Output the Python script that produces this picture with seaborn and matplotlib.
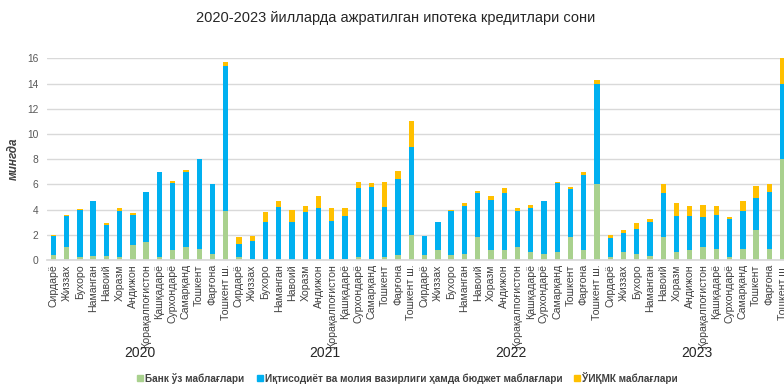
import matplotlib
matplotlib.use("Agg")
import matplotlib.pyplot as plt
import matplotlib.transforms as mtransforms
from matplotlib.lines import Line2D
import seaborn as sns
import pandas as pd

years = ["2020", "2021", "2022", "2023"]
regions = ["Сирдарё", "Жиззах", "Бухоро", "Наманган", "Навоий", "Хоразм", "Андижон",
           "Қорақалпоғистон", "Қашқадарё", "Сурхондарё", "Самарқанд", "Тошкент",
           "Фарғона", "Тошкент ш."]

bank_own = [0.4, 1.0, 0.2, 0.3, 0.3, 0.2, 1.2, 1.4, 0.25, 0.8, 1.0, 0.9, 0.5, 3.9,
            0.25, 0.1, 0.02, 0.02, 0.0, 0.0, 0.1, 0.05, 0.05, 0.2, 0.1, 0.2, 0.4, 2.0,
            0.4, 0.8, 0.4, 0.5, 1.8, 0.8, 0.8, 1.0, 0.65, 0.5, 0.6, 1.8, 0.8, 6.0,
            0.25, 0.65, 0.5, 0.35, 1.8, 0.65, 0.8, 1.0, 0.9, 0.25, 0.9, 2.4, 0.9, 8.0]
ministry_budget = [1.5, 2.5, 3.8, 4.4, 2.5, 3.7, 2.4, 4.0, 6.75, 5.35, 6.0, 7.1, 5.55, 11.5,
                   1.05, 1.4, 3.0, 4.15, 3.0, 3.8, 4.0, 3.05, 3.45, 5.5, 5.7, 4.0, 6.0, 6.95,
                   1.5, 2.2, 3.5, 3.8, 3.5, 4.0, 4.5, 2.9, 3.5, 4.15, 5.5, 3.8, 5.95, 8.0,
                   1.5, 1.5, 2.0, 2.7, 3.5, 2.85, 2.7, 2.4, 2.7, 3.0, 3.0, 2.5, 4.5, 6.0]
uiqmk = [0.1, 0.1, 0.02, 0.0, 0.1, 0.24, 0.13, 0.0, 0.0, 0.15, 0.12, 0.0, 0.0, 0.3,
         0.5, 0.4, 0.8, 0.5, 1.0, 0.5, 1.0, 1.0, 0.65, 0.5, 0.3, 2.0, 0.7, 2.05,
         0.03, 0.0, 0.1, 0.25, 0.2, 0.24, 0.4, 0.2, 0.2, 0.0, 0.08, 0.2, 0.2, 0.3,
         0.2, 0.2, 0.4, 0.2, 0.7, 1.0, 0.8, 1.0, 0.7, 0.2, 0.8, 1.0, 0.6, 2.0]

series_names = ["Банк ўз маблағлари",
                "Иқтисодиёт ва молия вазирлиги ҳамда бюджет маблағлари",
                "ЎИҚМК маблағлари"]
colors = ["#A9D18E", "#00B0F0", "#FFC000"]

keys = [f"{y}|{r}" for y in years for r in regions]
df = pd.DataFrame({"key": keys, "bank": bank_own, "min": ministry_budget, "uiq": uiqmk})
df["lvl1"] = df["bank"]
df["lvl2"] = df["bank"] + df["min"]
df["lvl3"] = df["lvl2"] + df["uiq"]

sns.set_theme(style="white")
plt.rcParams["font.family"] = ["Liberation Sans", "DejaVu Sans"]

W, H = 784, 385
fig = plt.figure(figsize=(W / 100, H / 100), dpi=100)
left_px, bottom_px, top_px = 46.7, 260, 58.4
step = 13.26
ax = fig.add_axes([left_px / W, 1 - bottom_px / H, 56 * step / W, (bottom_px - top_px) / H])

for col, c in zip(["lvl3", "lvl2", "lvl1"], colors[::-1]):
    sns.barplot(data=df, x="key", y=col, order=keys, color=c, width=0.4,
                saturation=1, ax=ax, linewidth=0, errorbar=None)

ax.set_xlim(-0.5, 55.5)
ax.set_ylim(0, 16)
ax.set_yticks(range(0, 17, 2))
ax.yaxis.grid(True, color="#D9D9D9", linewidth=1)
ax.set_axisbelow(True)
for s in ["top", "right", "left"]:
    ax.spines[s].set_visible(False)
ax.spines["bottom"].set_color("#D9D9D9")
ax.set_xticks(range(len(keys)))
ax.set_xticklabels([r for y in years for r in regions], rotation=90, fontsize=7.6,
                   color="#404040")
ax.tick_params(axis="x", length=0, pad=3)
ax.tick_params(axis="y", length=0, pad=6, labelsize=7.4, labelcolor="#595959")
ax.set_xlabel("")
ax.set_ylabel("мингда", fontsize=8.5, fontstyle="italic", fontweight="bold",
              color="#404040")
ax.yaxis.set_label_coords(-0.036, 0.5)

trans = mtransforms.blended_transform_factory(ax.transData, fig.transFigure)
for i, y in enumerate(years):
    ax.text(i * 14 + 6.5, 1 - 353 / H, y, transform=trans, ha="center", va="center",
            fontsize=10, color="#262626")

fig.text(0.505, 1 - 18 / H, "2020-2023 йилларда ажратилган ипотека кредитлари сони",
         ha="center", va="center", fontsize=10.5, color="#262626")

handles = [Line2D([0], [0], marker="s", linestyle="", markersize=4.5,
                  markerfacecolor=c, markeredgecolor=c) for c in colors]
fig.legend(handles, series_names, loc="center", bbox_to_anchor=(0.52, 1 - 378 / H),
           ncol=3, frameon=False, handlelength=0.6, handletextpad=0.2,
           columnspacing=1.2, prop={"size": 7.2, "weight": "bold"},
           labelcolor="#404040")

fig.savefig("out.png", dpi=100)
